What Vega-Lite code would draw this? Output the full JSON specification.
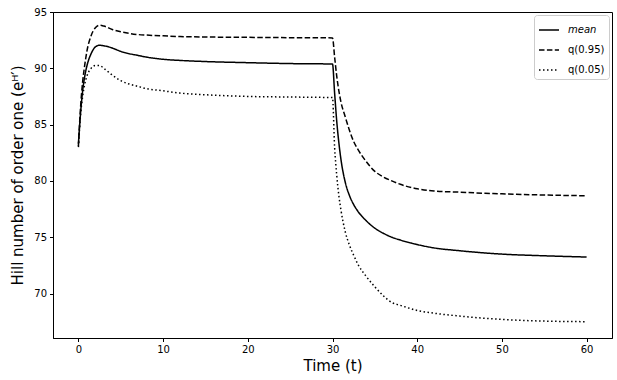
{
  "$schema": "https://vega.github.io/schema/vega-lite/v6.json",
  "width": 559,
  "height": 326,
  "autosize": "none",
  "padding": {"left": 53, "top": 12, "right": 5, "bottom": 42},
  "background": "white",
  "config": {
    "view": {"stroke": "black", "strokeWidth": 1},
    "font": "DejaVu Sans",
    "axis": {"domainColor": "black", "tickColor": "black", "labelColor": "black", "titleColor": "black", "grid": false, "tickSize": 3.5, "labelPadding": 3, "labelFontSize": 10, "titleFontSize": 15, "titleFontWeight": "normal", "labelFont": "DejaVu Sans", "titleFont": "DejaVu Sans"}
  },
  "data": {"values": [
    {"t": 0, "s": "mean", "v": 83.3}, {"t": 0.25, "s": "mean", "v": 86.0}, {"t": 0.5, "s": "mean", "v": 88.0}, {"t": 0.75, "s": "mean", "v": 89.3}, {"t": 1, "s": "mean", "v": 90.2}, {"t": 1.5, "s": "mean", "v": 91.3}, {"t": 2, "s": "mean", "v": 91.9}, {"t": 2.5, "s": "mean", "v": 92.05}, {"t": 3, "s": "mean", "v": 92.0}, {"t": 4, "s": "mean", "v": 91.8}, {"t": 5, "s": "mean", "v": 91.5}, {"t": 6, "s": "mean", "v": 91.3}, {"t": 7, "s": "mean", "v": 91.15}, {"t": 8, "s": "mean", "v": 91.0}, {"t": 10, "s": "mean", "v": 90.8}, {"t": 12, "s": "mean", "v": 90.7}, {"t": 15, "s": "mean", "v": 90.6}, {"t": 20, "s": "mean", "v": 90.5}, {"t": 25, "s": "mean", "v": 90.42}, {"t": 30, "s": "mean", "v": 90.38},
    {"t": 30.25, "s": "mean", "v": 87.8}, {"t": 30.5, "s": "mean", "v": 85.3}, {"t": 30.75, "s": "mean", "v": 83.4}, {"t": 31, "s": "mean", "v": 81.9}, {"t": 31.5, "s": "mean", "v": 79.9}, {"t": 32, "s": "mean", "v": 78.7}, {"t": 32.5, "s": "mean", "v": 77.9}, {"t": 33, "s": "mean", "v": 77.3}, {"t": 34, "s": "mean", "v": 76.45}, {"t": 35, "s": "mean", "v": 75.8}, {"t": 36, "s": "mean", "v": 75.35}, {"t": 37, "s": "mean", "v": 75.0}, {"t": 38, "s": "mean", "v": 74.75}, {"t": 40, "s": "mean", "v": 74.35}, {"t": 42, "s": "mean", "v": 74.05}, {"t": 45, "s": "mean", "v": 73.8}, {"t": 48, "s": "mean", "v": 73.6}, {"t": 50, "s": "mean", "v": 73.5}, {"t": 55, "s": "mean", "v": 73.35}, {"t": 60, "s": "mean", "v": 73.24},

    {"t": 0, "s": "q(0.95)", "v": 83.1}, {"t": 0.25, "s": "q(0.95)", "v": 86.5}, {"t": 0.5, "s": "q(0.95)", "v": 88.8}, {"t": 0.75, "s": "q(0.95)", "v": 90.3}, {"t": 1, "s": "q(0.95)", "v": 91.5}, {"t": 1.5, "s": "q(0.95)", "v": 92.9}, {"t": 2, "s": "q(0.95)", "v": 93.6}, {"t": 2.5, "s": "q(0.95)", "v": 93.82}, {"t": 3, "s": "q(0.95)", "v": 93.75}, {"t": 4, "s": "q(0.95)", "v": 93.45}, {"t": 5, "s": "q(0.95)", "v": 93.25}, {"t": 6, "s": "q(0.95)", "v": 93.1}, {"t": 7, "s": "q(0.95)", "v": 93.0}, {"t": 8, "s": "q(0.95)", "v": 92.95}, {"t": 10, "s": "q(0.95)", "v": 92.88}, {"t": 12, "s": "q(0.95)", "v": 92.82}, {"t": 15, "s": "q(0.95)", "v": 92.78}, {"t": 20, "s": "q(0.95)", "v": 92.75}, {"t": 25, "s": "q(0.95)", "v": 92.72}, {"t": 30, "s": "q(0.95)", "v": 92.7},
    {"t": 30.25, "s": "q(0.95)", "v": 91.0}, {"t": 30.5, "s": "q(0.95)", "v": 89.3}, {"t": 30.75, "s": "q(0.95)", "v": 88.0}, {"t": 31, "s": "q(0.95)", "v": 87.0}, {"t": 31.5, "s": "q(0.95)", "v": 85.7}, {"t": 32, "s": "q(0.95)", "v": 84.5}, {"t": 32.5, "s": "q(0.95)", "v": 83.5}, {"t": 33, "s": "q(0.95)", "v": 82.8}, {"t": 34, "s": "q(0.95)", "v": 81.7}, {"t": 35, "s": "q(0.95)", "v": 80.85}, {"t": 36, "s": "q(0.95)", "v": 80.35}, {"t": 37, "s": "q(0.95)", "v": 80.0}, {"t": 38, "s": "q(0.95)", "v": 79.7}, {"t": 40, "s": "q(0.95)", "v": 79.3}, {"t": 42, "s": "q(0.95)", "v": 79.1}, {"t": 45, "s": "q(0.95)", "v": 79.0}, {"t": 48, "s": "q(0.95)", "v": 78.9}, {"t": 50, "s": "q(0.95)", "v": 78.85}, {"t": 55, "s": "q(0.95)", "v": 78.75}, {"t": 60, "s": "q(0.95)", "v": 78.68},

    {"t": 0, "s": "q(0.05)", "v": 83.0}, {"t": 0.25, "s": "q(0.05)", "v": 85.8}, {"t": 0.5, "s": "q(0.05)", "v": 87.5}, {"t": 0.75, "s": "q(0.05)", "v": 88.6}, {"t": 1, "s": "q(0.05)", "v": 89.3}, {"t": 1.5, "s": "q(0.05)", "v": 90.0}, {"t": 2, "s": "q(0.05)", "v": 90.25}, {"t": 2.5, "s": "q(0.05)", "v": 90.25}, {"t": 3, "s": "q(0.05)", "v": 90.0}, {"t": 4, "s": "q(0.05)", "v": 89.4}, {"t": 5, "s": "q(0.05)", "v": 88.9}, {"t": 6, "s": "q(0.05)", "v": 88.6}, {"t": 7, "s": "q(0.05)", "v": 88.4}, {"t": 8, "s": "q(0.05)", "v": 88.2}, {"t": 10, "s": "q(0.05)", "v": 88.0}, {"t": 12, "s": "q(0.05)", "v": 87.8}, {"t": 15, "s": "q(0.05)", "v": 87.65}, {"t": 20, "s": "q(0.05)", "v": 87.5}, {"t": 25, "s": "q(0.05)", "v": 87.45}, {"t": 30, "s": "q(0.05)", "v": 87.4},
    {"t": 30.25, "s": "q(0.05)", "v": 83.0}, {"t": 30.5, "s": "q(0.05)", "v": 80.5}, {"t": 30.75, "s": "q(0.05)", "v": 78.7}, {"t": 31, "s": "q(0.05)", "v": 77.4}, {"t": 31.5, "s": "q(0.05)", "v": 75.5}, {"t": 32, "s": "q(0.05)", "v": 74.3}, {"t": 32.5, "s": "q(0.05)", "v": 73.4}, {"t": 33, "s": "q(0.05)", "v": 72.6}, {"t": 34, "s": "q(0.05)", "v": 71.5}, {"t": 35, "s": "q(0.05)", "v": 70.6}, {"t": 36, "s": "q(0.05)", "v": 69.8}, {"t": 37, "s": "q(0.05)", "v": 69.2}, {"t": 38, "s": "q(0.05)", "v": 68.95}, {"t": 40, "s": "q(0.05)", "v": 68.5}, {"t": 42, "s": "q(0.05)", "v": 68.25}, {"t": 45, "s": "q(0.05)", "v": 68.0}, {"t": 48, "s": "q(0.05)", "v": 67.8}, {"t": 50, "s": "q(0.05)", "v": 67.7}, {"t": 55, "s": "q(0.05)", "v": 67.55}, {"t": 60, "s": "q(0.05)", "v": 67.5}
  ]},
  "mark": {"type": "line", "color": "black", "strokeWidth": 1.5, "interpolate": "monotone", "clip": true},
  "encoding": {
    "x": {"field": "t", "type": "quantitative", "scale": {"domain": [-3, 63], "nice": false, "zero": false},
      "axis": {"values": [0, 10, 20, 30, 40, 50, 60], "title": "Time (t)", "titlePadding": 4}},
    "y": {"field": "v", "type": "quantitative", "scale": {"domain": [66.05, 95], "nice": false, "zero": false},
      "axis": {"values": [70, 75, 80, 85, 90, 95], "title": "Hill number of order one (eᴴ′)", "titlePadding": 8}},
    "strokeDash": {"field": "s", "type": "nominal",
      "scale": {"domain": ["mean", "q(0.95)", "q(0.05)"], "range": [[1, 0], [5.5, 2.4], [1.5, 2.5]]},
      "legend": {"title": null, "orient": "top-right", "offset": 3, "padding": 4, "fillColor": "white", "strokeColor": "#cccccc", "cornerRadius": 3,
        "labelFontSize": 10, "labelColor": "black", "symbolType": "stroke", "symbolSize": 400, "symbolStrokeWidth": 1.5, "symbolStrokeColor": "black", "rowPadding": 4, "labelOffset": 8,
        "encode": {"labels": {"update": {"fontStyle": {"signal": "datum.value === 'mean' ? 'italic' : 'normal'"}}}}}
    }
  }
}
